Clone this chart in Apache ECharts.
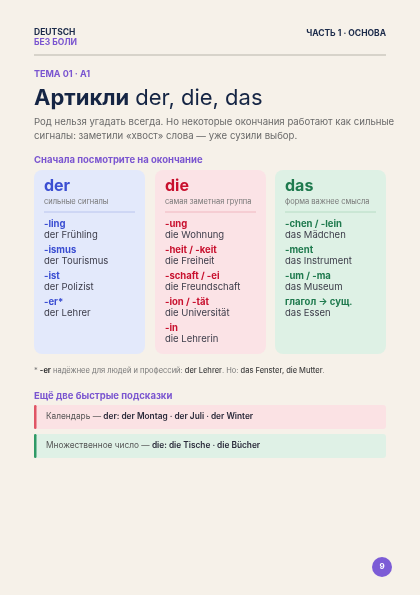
<!DOCTYPE html>
<html><head><meta charset="utf-8">
<script src="https://cdn.jsdelivr.net/npm/echarts@6/dist/echarts.min.js"></script>
<style>html,body{margin:0;padding:0;background:#f6f1e9}#c{width:420px;height:595px}</style>
</head><body><div id="c"></div>
<script>
const articles = ['der', 'die', 'das'];
const subtitles = ['сильные сигналы', 'самая заметная группа', 'форма важнее смысла'];
const derEndings = ['-ling', '-ismus', '-ist', '-er*'];
const derExamples = ['der Frühling', 'der Tourismus', 'der Polizist', 'der Lehrer'];
const dieEndings = ['-ung', '-heit / -keit', '-schaft / -ei', '-ion / -tät', '-in'];
const dieExamples = ['die Wohnung', 'die Freiheit', 'die Freundschaft', 'die Universität', 'die Lehrerin'];
const dasEndings = ['-chen / -lein', '-ment', '-um / -ma', 'глагол → сущ.'];
const dasExamples = ['das Mädchen', 'das Instrument', 'das Museum', 'das Essen'];
const hintLabels = ['Календарь — ', 'Множественное число — '];
const hintValues = ['der: der Montag · der Juli · der Winter', 'die: die Tische · die Bücher'];

const F = 'Inter, "Noto Sans", sans-serif';
const cardColors = ['#e3e9fb', '#fbe3e6', '#def1e5'];
const accent = ['#3b4ed2', '#c8102e', '#1f7a4e'];
const lineCol = ['#b9c4ee', '#f0b7c0', '#b6dcc4'];
const endings = [derEndings, dieEndings, dasEndings];
const examples = [derExamples, dieExamples, dasExamples];
const g = [];
function t(x, y, text, size, color, weight, extra) {
  g.push(Object.assign({type:'text', x, y, style:{text, fontSize:size, fill:color, fontWeight:weight||'normal', fontFamily:F, textVerticalAlign:'middle'}}, extra||{}));
}
t(34, 32, 'DEUTSCH', 8.5, '#1c2b4a', 'bold');
t(34, 42, 'БЕЗ БОЛИ', 8.5, '#7a55d0', 'bold');
g.push({type:'text', x:386, y:33, style:{text:'ЧАСТЬ 1 · ОСНОВА', fontSize:8.5, fill:'#1c2b4a', fontWeight:'bold', fontFamily:F, align:'right', textVerticalAlign:'middle'}});
g.push({type:'line', shape:{x1:34, y1:55, x2:386, y2:55}, style:{stroke:'#cdc8bf', lineWidth:1.5}});
t(34, 74, 'ТЕМА 01 · A1', 9, '#7a55d0', 'bold');
g.push({type:'text', x:34, y:98, style:{text:'{b|Артикли}{s| }{r|der, die, das}', fontFamily:F, textVerticalAlign:'middle',
  rich:{b:{fontSize:22, fontWeight:'bold', fill:'#152544', fontFamily:F}, s:{fontSize:22, width:6}, r:{fontSize:22, fill:'#152544', fontFamily:F}}}});
t(34, 122, 'Род нельзя угадать всегда. Но некоторые окончания работают как сильные', 9.6, '#6a6a6a');
t(34, 136, 'сигналы: заметили «хвост» слова — уже сузили выбор.', 9.6, '#6a6a6a');
t(34, 160, 'Сначала посмотрите на окончание', 9.5, '#7a55d0', 'bold');
const cx = [34, 155, 275];
articles.forEach((a, i) => {
  const x = cx[i];
  g.push({type:'rect', shape:{x, y:170, width:111, height:184, r:8}, style:{fill:cardColors[i]}});
  t(x+10, 186, a, 16, accent[i], 'bold');
  t(x+10, 202, subtitles[i], 7.5, '#777');
  g.push({type:'line', shape:{x1:x+10, y1:212, x2:x+101, y2:212}, style:{stroke:lineCol[i], lineWidth:1}});
  endings[i].forEach((e, j) => {
    t(x+10, 224 + j*26, e, 9.5, accent[i], 'bold');
    t(x+10, 235 + j*26, examples[i][j], 9.5, '#3d3d4a');
  });
});
g.push({type:'text', x:34, y:371, style:{text:'{g|* }{b|-er}{g| надёжнее для людей и профессий: }{d|der Lehrer}{g|. Но: }{d|das Fenster, die Mutter}{g|.}', textVerticalAlign:'middle', fontFamily:F,
  rich:{g:{fontSize:7.5, fill:'#777', fontFamily:F}, b:{fontSize:7.5, fill:'#333', fontWeight:'bold', fontFamily:F}, d:{fontSize:7.5, fill:'#444', fontWeight:500, fontFamily:F}}}});
t(34, 396, 'Ещё две быстрые подсказки', 9.5, '#7a55d0', 'bold');
const hintFill = ['#fbe2e4', '#dff1e6'], hintBar = ['#e05565', '#2f9a66'];
hintLabels.forEach((h, i) => {
  const y = 405 + i*29;
  g.push({type:'rect', shape:{x:34, y, width:352, height:24, r:3}, style:{fill:hintFill[i]}});
  g.push({type:'rect', shape:{x:34, y, width:2.5, height:24, r:1.2}, style:{fill:hintBar[i]}});
  g.push({type:'text', x:46, y:y+12, style:{text:'{a|'+h+'}{b|'+hintValues[i]+'}', textVerticalAlign:'middle', fontFamily:F,
    rich:{a:{fontSize:8.3, fill:'#555', fontFamily:F}, b:{fontSize:8.3, fill:'#2a2a3a', fontWeight:600, fontFamily:F}}}});
});
g.push({type:'circle', shape:{cx:382, cy:567, r:10}, style:{fill:'#7c5cd6'}});
g.push({type:'text', x:382, y:567, style:{text:'9', fontSize:8, fill:'#fff', fontWeight:'bold', fontFamily:F, align:'center', textVerticalAlign:'middle'}});
const chart = echarts.init(document.getElementById('c'));
chart.setOption({backgroundColor:'#f6f1e9', animation:false, graphic:g});
</script></body></html>
